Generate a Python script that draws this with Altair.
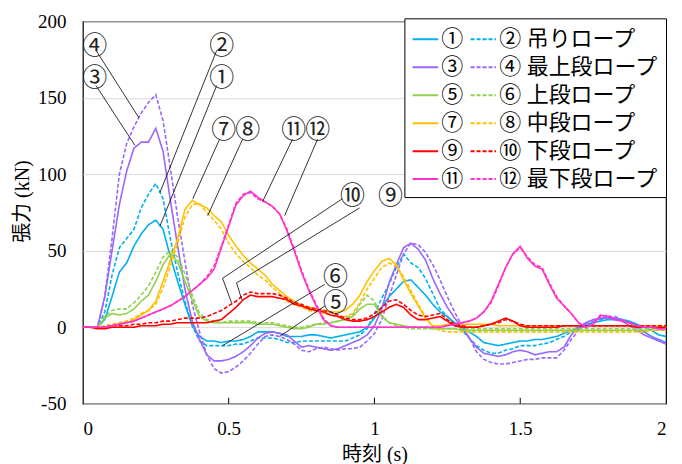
import altair as alt
import pandas as pd

T = [0.0, 0.025, 0.05, 0.075, 0.1, 0.125, 0.15, 0.175, 0.2, 0.225,
     0.25, 0.275, 0.3, 0.325, 0.35, 0.375, 0.4, 0.425, 0.45, 0.475,
     0.5, 0.525, 0.55, 0.575, 0.6, 0.625, 0.65, 0.675, 0.7, 0.725,
     0.75, 0.775, 0.8, 0.825, 0.85, 0.875, 0.9, 0.925, 0.95, 0.975,
     1.0, 1.025, 1.05, 1.075, 1.1, 1.125, 1.15, 1.175, 1.2, 1.225,
     1.25, 1.275, 1.3, 1.325, 1.35, 1.375, 1.4, 1.425, 1.45, 1.475,
     1.5, 1.525, 1.55, 1.575, 1.6, 1.625, 1.65, 1.675, 1.7, 1.725,
     1.75, 1.775, 1.8, 1.825, 1.85, 1.875, 1.9, 1.925, 1.95, 1.975,
     2.0]

# 1: 吊りロープ (solid) / 2: 吊りロープ (dashed)
S1 = [0, 0, 0, 5, 20, 36, 42, 53, 61, 67,
      70, 64, 46, 30, 15, 1, -6, -9, -9, -10,
      -9, -9, -8, -6, -3, -3, -3, -4, -6, -6,
      -6, -5, -5, -6, -7, -6, -5, -4, -3, 0,
      6, 13, 20, 25, 30, 31, 26, 21, 15, 10,
      7, 3, 0, -3, -6, -10, -11, -12, -11, -10,
      -9, -9, -8, -8, -7, -6, -4, -2, 0, 2,
      3, 4, 5, 5, 5, 4, 2, 0, -2, -5,
      -6]
S2 = [0, 0, 0, 10, 34, 52, 58, 64, 78, 87,
      94, 84, 58, 36, 17, 1, -9, -12, -12, -12,
      -12, -11, -11, -9, -7, -7, -7, -8, -10, -10,
      -9, -9, -9, -9, -9, -9, -9, -7, -5, -1,
      9, 19, 28, 39, 48, 42, 39, 32, 22, 12,
      7, 2, -2, -7, -12, -15, -17, -17, -15, -14,
      -12, -12, -12, -11, -10, -8, -6, -3, -1, 1,
      3, 5, 6, 6, 5, 3, 1, -3, -6, -8,
      -10]
# 3/4: 最上段ロープ
S3 = [0, 0, 0, 20, 50, 80, 102, 117, 121, 121,
      130, 115, 83, 53, 25, 4, -8, -18, -22, -22,
      -21, -19, -16, -12, -7, -4, -3, -4, -5, -9,
      -13, -12, -13, -14, -15, -14, -12, -10, -8, -5,
      1, 12, 29, 41, 52, 55, 51, 44, 32, 22,
      13, 6, 0, -7, -13, -17, -18, -19, -18, -16,
      -15, -16, -18, -17, -16, -16, -13, -5, 0, 3,
      5, 6, 6, 6, 4, 1, -2, -5, -7, -9,
      -11]
S4 = [0, 0, 0, 20, 58, 100, 120, 131, 140, 147,
      152, 135, 104, 72, 43, 15, -3, -18, -27, -30,
      -29, -26, -22, -17, -11, -6, -5, -6, -8, -11,
      -15, -16, -14, -13, -14, -15, -14, -14, -13, -9,
      -4, 5, 20, 34, 48, 55, 54, 49, 41, 31,
      20, 10, 1, -7, -16, -21, -23, -24, -24, -23,
      -22, -21, -21, -20, -20, -20, -15, -8, -2, 2,
      4, 6, 7, 7, 5, 3, 0, -3, -6, -8,
      -10]
# 5/6: 上段ロープ
S5 = [0, 0, 0, 6, 9, 8, 9, 12, 17, 21,
      30, 41, 48, 43, 30, 18, 7, 4, 3, 3,
      3, 3, 3, 3, 2, 2, 2, 1, 0, -1,
      -1, 0, 2, 2, 3, 4, 5, 7, 12, 15,
      15, 7, 3, 2, 1, 0, 0, 0, -1, -1,
      -1, -1, -2, -2, -2, -2, -2, -2, -2, -2,
      -2, -2, -2, -2, -2, -2, -2, -2, -2, -2,
      -2, -2, -2, -2, -2, -2, -2, -2, -2, -2,
      -2]
S6 = [0, 0, 0, 7, 11, 12, 12, 16, 21, 27,
      36, 46, 50, 46, 35, 21, 9, 5, 4, 3,
      4, 4, 4, 4, 3, 3, 3, 2, 1, 0,
      0, 1, 2, 3, 3, 4, 6, 8, 15, 21,
      17, 8, 3, 1, 0, -1, -1, -1, -1, -1,
      -1, -1, -1, -1, -1, -1, -1, -1, -1, -1,
      -1, -1, -1, -1, -1, -1, -1, -1, -1, -1,
      -1, -1, -1, -1, -1, -1, -1, -1, -1, -1,
      -1]
# 7/8: 中段ロープ
S7 = [0, 0, 0, 0, 1, 2, 3, 5, 8, 11,
      17, 30, 44, 58, 77, 83, 80, 78, 73, 69,
      60, 53, 47, 42, 38, 34, 28, 24, 20, 17,
      14, 13, 12, 11, 10, 10, 11, 15, 21, 30,
      37, 43, 45, 41, 31, 22, 14, 6, 1, 1,
      2, 2, 2, 2, 2, 2, 2, 1, 1, 1,
      1, 1, 1, 1, 1, 1, 1, 1, 1, 1,
      1, 1, 1, 1, 1, 1, 1, 1, 1, 1,
      0]
S8 = [0, 0, 0, 1, 2, 3, 4, 6, 9, 11,
      15, 26, 40, 55, 72, 80, 81, 75, 70, 64,
      55, 48, 43, 39, 34, 31, 26, 22, 17, 15,
      13, 11, 10, 9, 8, 7, 7, 9, 16, 25,
      32, 39, 42, 40, 33, 24, 15, 7, 0, -2,
      -3, -3, -3, -3, -3, -3, -3, -3, -3, -3,
      -3, -3, -3, -3, -3, -3, -3, -3, -3, -3,
      -3, -3, -3, -3, -3, -3, -3, -3, -2, -2,
      -2]
# 9/10: 下段ロープ
S9 = [0, 0, -1, -1, 0, 0, 0, 0, 1, 1,
      1, 2, 2, 3, 3, 3, 3, 3, 4, 5,
      9, 13, 18, 21, 20, 20, 20, 19, 18, 15,
      14, 12, 11, 10, 8, 7, 5, 4, 4, 5,
      7, 10, 13, 15, 13, 8, 5, 5, 6, 7,
      4, 1, 0, 0, 0, 1, 2, 4, 6, 4,
      1, 0, 0, 0, 0, 0, 1, 1, 1, 1,
      1, 1, 1, 1, 1, 1, 0, 0, 0, 0,
      0]
S10 = [0, 0, 0, 0, 1, 1, 1, 2, 2, 3,
       3, 4, 4, 5, 6, 6, 6, 7, 9, 11,
       14, 17, 21, 23, 22, 22, 22, 21, 19, 16,
       15, 13, 12, 11, 10, 8, 6, 5, 5, 6,
       9, 13, 17, 18, 15, 11, 8, 7, 8, 9,
       5, 2, 1, 0, 0, 1, 2, 3, 5, 4,
       2, 1, 1, 1, 1, 1, 1, 1, 1, 1,
       1, 1, 1, 1, 1, 1, 1, 1, 1, 1,
       1]
# 11/12: 最下段ロープ
S11 = [0, 0, 0, 0, 1, 2, 3, 4, 6, 8,
       10, 12, 14, 17, 20, 24, 28, 32, 38, 52,
       66, 80, 86, 89, 85, 82, 79, 74, 63, 50,
       36, 24, 14, 5, 1, 0, 0, 0, 0, 0,
       0, 0, 0, 0, 0, 0, 0, 0, 0, 0,
       1, 2, 3, 4, 6, 10, 17, 28, 39, 48,
       53, 45, 40, 38, 28, 19, 14, 9, 3, 0,
       2, 8, 7, 5, 4, 3, 1, 0, 0, -1,
       -1]
S12 = [0, 0, 0, 0, 1, 2, 3, 4, 6, 8,
       10, 12, 14, 17, 20, 24, 28, 33, 40, 53,
       67, 81, 87, 88, 84, 82, 79, 74, 64, 51,
       37, 25, 15, 6, 1, 0, 0, 0, 0, 0,
       0, 0, 0, 0, 0, 0, 0, 0, 0, 0,
       1, 2, 3, 4, 6, 10, 16, 27, 39, 48,
       52, 46, 41, 39, 29, 20, 14, 9, 3, 0,
       2, 7, 8, 5, 4, 3, 1, 0, 0, -1,
       -1]

SOLID_LABELS = ["①", "③", "⑤", "⑦", "⑨", "⑪"]
DASH_LABELS = ["② 吊りロープ", "④ 最上段ロープ", "⑥ 上段ロープ",
               "⑧ 中段ロープ", "⑩ 下段ロープ", "⑫ 最下段ロープ"]
PAIR_COLORS = ["#00B0F0", "#9966FF", "#92D050", "#FFC000", "#FF0000", "#FF33CC"]
SOLID_SERIES = [S1, S3, S5, S7, S9, S11]
DASH_SERIES = [S2, S4, S6, S8, S10, S12]

# legend is laid out column by column: solid entries first, dashed entries second
LABELS = SOLID_LABELS + DASH_LABELS
COLORS = PAIR_COLORS + PAIR_COLORS
DASHES = [[1, 0]] * 6 + [[4, 2]] * 6

# annotation labels (data coords)
ANN_TEXT = ["④", "③", "②", "①", "⑦", "⑧", "⑪", "⑫", "⑩", "⑨", "⑥", "⑤"]
ANN_T = [0.041, 0.041, 0.476, 0.476, 0.483, 0.565, 0.723, 0.805, 0.925, 1.055, 0.866, 0.866]
ANN_V = [184, 163, 184, 163, 129, 129, 129, 129, 86, 86, 33, 16]

# leader lines: id, t, v
LEAD_ID = ["4", "4", "3", "3", "2", "2", "1", "1", "7", "7", "8", "8",
           "11", "11", "12", "12", "10", "10", "10", "9", "9", "9", "6", "6", "5", "5"]
LEAD_T = [0.045, 0.192, 0.045, 0.178, 0.459, 0.264, 0.459, 0.264, 0.469, 0.377, 0.548, 0.428,
          0.719, 0.616, 0.805, 0.692, 0.89, 0.479, 0.51, 0.949, 0.527, 0.545, 0.829, 0.479, 0.83, 0.675]
LEAD_V = [181, 137, 158, 119, 181, 88, 158, 66, 123, 84, 123, 73,
          123, 82, 123, 73, 84, 32, 16, 78, 29, 18, 28, -12, 14, -6]

rows = []
for k in range(6):
    for lab, vals in ((SOLID_LABELS[k], SOLID_SERIES[k]), (DASH_LABELS[k], DASH_SERIES[k])):
        assert len(vals) == len(T)
        for t, v in zip(T, vals):
            rows.append({"series": lab, "t": t, "v": v})
df = pd.DataFrame(rows)

ann = pd.DataFrame({"txt": ANN_TEXT, "t": ANN_T, "v": ANN_V})
lead = pd.DataFrame({"id": LEAD_ID, "t": LEAD_T, "v": LEAD_V,
                     "ord": list(range(len(LEAD_ID)))})
ticks = pd.DataFrame({"t": [0.5, 1.0, 1.5]})

FONT = "Liberation Serif, Noto Sans CJK JP"
CJK = "Noto Sans CJK JP"
W, H = 584, 383

legend = alt.Legend(
    title=None, orient="none", legendX=322, legendY=-3, columns=2,
    symbolType="stroke", symbolSize=650, symbolStrokeWidth=2,
    labelFont=FONT, labelFontSize=22, labelColor="black", labelLimit=400,
    rowPadding=3, columnPadding=2, padding=7, labelOffset=2,
    strokeColor="black", fillColor="white",
)

xs = alt.Scale(domain=[0, 2], nice=False)
ys = alt.Scale(domain=[-50, 200], nice=False)

lines = alt.Chart(df).mark_line(strokeWidth=1.6).encode(
    x=alt.X("t:Q", scale=xs, axis=alt.Axis(
        values=[0, 0.5, 1, 1.5, 2], format="~g", title="時刻 (s)", grid=False,
        ticks=False, domain=False, labelPadding=16, titlePadding=6,
        labelFontSize=19, titleFontSize=20)),
    y=alt.Y("v:Q", scale=ys, axis=alt.Axis(
        values=[-50, 0, 50, 100, 150, 200], title="張力 (kN)", grid=True,
        gridColor="#D9D9D9", ticks=False, domain=False, labelPadding=17,
        labelExpr="replace(datum.label, '−', '-')",
        titleX=-60, titleY=180, titleAngle=-90, titleAlign="center", titleBaseline="middle",
        labelFontSize=19, titleFontSize=20)),
    color=alt.Color("series:N", scale=alt.Scale(domain=LABELS, range=COLORS), legend=legend),
    strokeDash=alt.StrokeDash("series:N", scale=alt.Scale(domain=LABELS, range=DASHES), legend=legend),
    detail="series:N",
)

tick_marks = alt.Chart(ticks).mark_rule(color="black", strokeWidth=1).encode(
    x=alt.X("t:Q", scale=xs), y=alt.value(H), y2=alt.value(H - 6))

leaders = alt.Chart(lead).mark_line(color="black", strokeWidth=0.8).encode(
    x=alt.X("t:Q", scale=xs), y=alt.Y("v:Q", scale=ys), detail="id:N", order="ord:Q")

labels = alt.Chart(ann).mark_text(font=CJK, fontSize=25, color="#222222",
                                  align="center", baseline="middle").encode(
    x=alt.X("t:Q", scale=xs), y=alt.Y("v:Q", scale=ys), text="txt:N")

chart = alt.layer(lines, tick_marks, leaders, labels).properties(
    width=W, height=H,
    autosize=alt.AutoSizeParams(type="none"),
    padding={"left": 75, "top": 13, "right": 8, "bottom": 60},
).configure_axis(
    labelFont=FONT, titleFont=FONT,
    labelColor="black", titleColor="black", titleFontWeight="normal",
).configure_view(stroke="black", strokeWidth=1.2)

chart.save("out.html", embed_options={"renderer": "svg", "actions": False})
